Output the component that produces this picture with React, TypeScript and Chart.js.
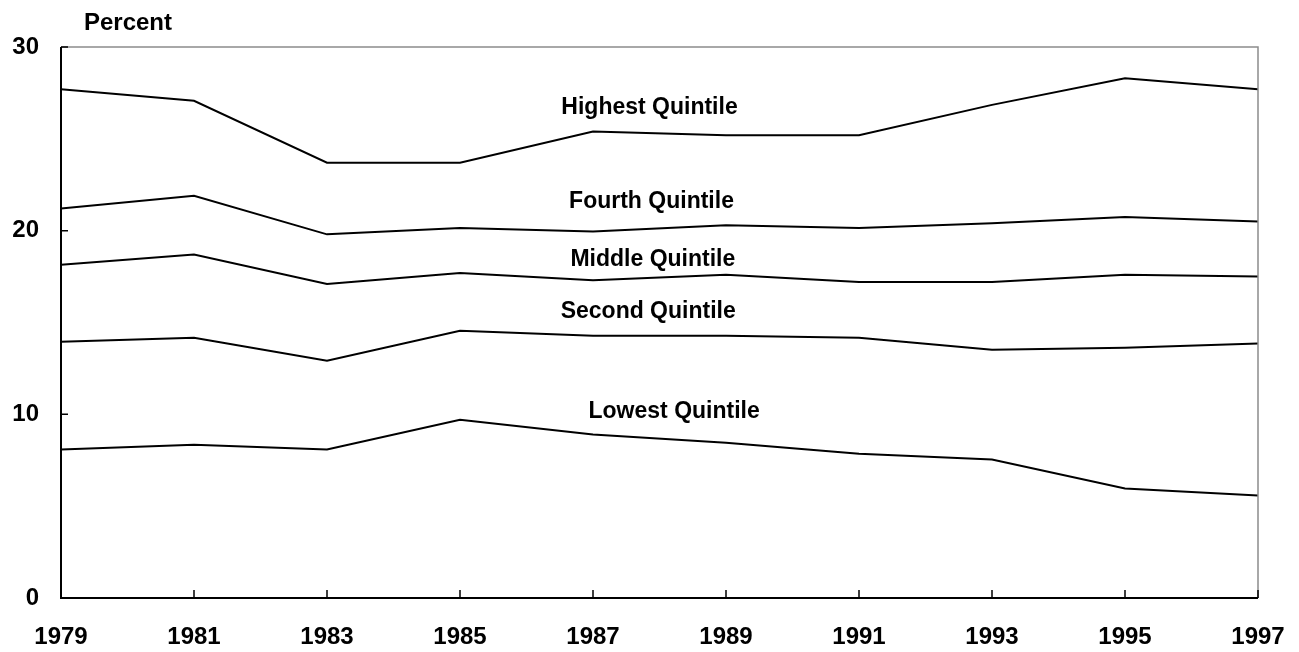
import React, { useEffect, useRef } from "react";
import { Chart, registerables } from "chart.js";

Chart.register(...registerables);

const years = [1979, 1981, 1983, 1985, 1987, 1989, 1991, 1993, 1995, 1997];
const highest = [27.7, 27.07, 23.7, 23.7, 25.4, 25.2, 25.2, 26.85, 28.3, 27.7];
const fourth = [21.2, 21.9, 19.8, 20.15, 19.95, 20.3, 20.15, 20.4, 20.75, 20.5];
const middle = [18.15, 18.7, 17.1, 17.7, 17.3, 17.6, 17.2, 17.2, 17.6, 17.5];
const second = [13.95, 14.17, 12.92, 14.55, 14.28, 14.28, 14.17, 13.52, 13.63, 13.85];
const lowest = [8.08, 8.35, 8.08, 9.7, 8.9, 8.45, 7.86, 7.54, 5.96, 5.58];

const seriesNames = ["Highest Quintile", "Fourth Quintile", "Middle Quintile", "Second Quintile", "Lowest Quintile"];
const labelX = [1987.85, 1987.88, 1987.9, 1987.83, 1988.22];
const labelY = [26.7, 21.57, 18.4, 15.6, 10.15];

const yTicks = [0, 10, 20, 30];
const yTitle = "Percent";

const FONT = '"Liberation Sans", Arial, sans-serif';

const overlay = {
  id: "overlay",
  afterDatasetsDraw(chart: any) {
    const { ctx, chartArea: a, scales } = chart;
    const xs = scales.x;
    const ys = scales.y;
    ctx.save();
    // borders
    ctx.strokeStyle = "#8c8c8c";
    ctx.lineWidth = 1.5;
    ctx.beginPath();
    ctx.moveTo(a.left, a.top);
    ctx.lineTo(a.right, a.top);
    ctx.lineTo(a.right, a.bottom);
    ctx.stroke();
    ctx.strokeStyle = "#000";
    ctx.lineWidth = 2;
    ctx.beginPath();
    ctx.moveTo(a.left, a.top);
    ctx.lineTo(a.left, a.bottom);
    ctx.lineTo(a.right, a.bottom);
    ctx.stroke();
    // inner ticks
    ctx.lineWidth = 1.5;
    ctx.beginPath();
    for (const v of yTicks) {
      const y = ys.getPixelForValue(v);
      ctx.moveTo(a.left, y);
      ctx.lineTo(a.left + 7, y);
    }
    for (const yr of years) {
      const x = xs.getPixelForValue(yr);
      ctx.moveTo(x, a.bottom);
      ctx.lineTo(x, a.bottom - 8);
    }
    ctx.stroke();
    // series labels
    ctx.fillStyle = "#000";
    ctx.font = `bold 23px ${FONT}`;
    ctx.textAlign = "center";
    ctx.textBaseline = "middle";
    seriesNames.forEach((n, i) => {
      ctx.fillText(n, xs.getPixelForValue(labelX[i]), ys.getPixelForValue(labelY[i]));
    });
    // y title
    ctx.font = `bold 24px ${FONT}`;
    ctx.fillText(yTitle, 128, 23);
    ctx.restore();
  },
};

export default function App() {
  const ref = useRef<HTMLCanvasElement>(null);
  useEffect(() => {
    const all = [highest, fourth, middle, second, lowest];
    const chart = new Chart(ref.current as HTMLCanvasElement, {
      type: "line",
      data: {
        datasets: all.map((vals, i) => ({
          label: seriesNames[i],
          data: years.map((y, j) => ({ x: y, y: vals[j] })),
          borderColor: "#000",
          borderWidth: 2,
          pointRadius: 0,
          fill: false,
          tension: 0,
        })),
      },
      options: {
        animation: false,
        responsive: false,
        devicePixelRatio: 1,
        layout: { padding: { left: 0, top: 47, right: 41, bottom: 0 } },
        plugins: { legend: { display: false }, tooltip: { enabled: false } },
        scales: {
          x: {
            type: "linear",
            min: 1979,
            max: 1997,
            grid: { display: false, drawTicks: false, tickLength: 0 },
            border: { display: false },
            ticks: {
              stepSize: 2,
              autoSkip: false,
              maxRotation: 0,
              padding: 25,
              color: "#000",
              font: { family: FONT, size: 24, weight: "bold" },
              callback: (v: any) => String(v),
            },
            afterFit: (s: any) => {
              s.height = 54;
              s.paddingLeft = 0;
              s.paddingRight = 0;
            },
          },
          y: {
            min: 0,
            max: 30,
            grid: { display: false, drawTicks: false, tickLength: 0 },
            border: { display: false },
            ticks: {
              stepSize: 10,
              padding: 22,
              color: "#000",
              font: { family: FONT, size: 24, weight: "bold" },
            },
            afterFit: (s: any) => {
              s.width = 61;
              s.paddingTop = 0;
              s.paddingBottom = 0;
            },
          },
        },
      },
      plugins: [overlay],
    });
    return () => chart.destroy();
  }, []);
  return (
    <div style={{ position: "fixed", left: 0, top: 0, width: 1299, height: 652, background: "#fff" }}>
      <canvas ref={ref} width={1299} height={652} style={{ display: "block", width: 1299, height: 652 }} />
    </div>
  );
}
